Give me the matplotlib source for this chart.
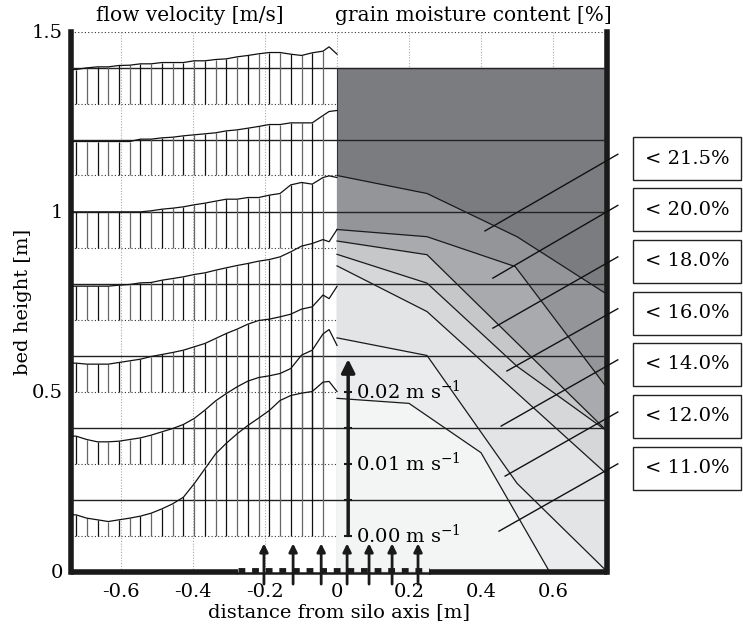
import numpy as np
import matplotlib.pyplot as plt
from matplotlib.patches import Rectangle, Polygon

plt.rcParams['font.family'] = ['DejaVu Serif']
plt.rcParams['mathtext.fontset'] = 'dejavuserif'

# ---- flow velocity profiles [mm/s] at the measuring points ----
bar_x = np.linspace(-0.725, -0.039, 24)
tail_x = [-0.022, 0.0]
profile_zero = [0.1, 0.3, 0.5, 0.7, 0.9, 1.1, 1.3]
level_y = [0.2, 0.4, 0.6, 0.8, 1.0, 1.2, 1.4]

vel_1 = [2.87, 2.41, 2.18, 1.94, 2.18, 2.41, 2.69, 3.10, 3.70, 4.40, 5.32, 7.18,
         9.26, 11.34, 12.82, 14.12, 15.28, 16.30, 17.36, 18.75, 19.44, 19.77, 20.0, 21.3]
vel_2 = [3.80, 3.33, 3.01, 3.01, 3.10, 3.33, 3.56, 3.94, 4.40, 4.86, 5.42, 6.25,
         7.41, 8.70, 9.72, 10.65, 11.44, 11.94, 12.18, 12.5, 13.19, 15.05, 15.74, 18.0]
vel_3 = [3.94, 3.80, 3.80, 3.80, 4.03, 4.26, 4.49, 4.86, 5.14, 5.42, 5.74, 6.20,
         6.67, 7.36, 8.06, 8.66, 9.35, 9.86, 10.05, 10.37, 10.74, 11.44, 11.76, 13.4]
vel_4 = [4.63, 4.63, 4.63, 4.63, 4.77, 4.86, 5.09, 5.14, 5.46, 5.69, 5.93, 6.25,
         6.48, 6.85, 7.18, 7.50, 7.78, 8.10, 8.33, 8.70, 9.40, 10.19, 10.56, 11.1]
vel_5 = [4.95, 4.95, 4.95, 4.95, 4.95, 4.95, 4.95, 5.10, 5.32, 5.46, 5.65, 5.93,
         6.16, 6.44, 6.71, 6.71, 6.94, 6.94, 7.27, 7.50, 8.70, 9.03, 8.80, 9.72]
vel_6 = [4.72, 4.72, 4.72, 4.72, 4.72, 4.72, 5.05, 5.05, 5.23, 5.32, 5.51, 5.65,
         5.79, 5.93, 6.20, 6.34, 6.57, 6.81, 7.08, 7.08, 7.31, 7.31, 7.31, 8.33]
vel_7 = [4.72, 4.95, 5.09, 5.09, 5.28, 5.32, 5.51, 5.51, 5.69, 5.69, 5.69, 5.93,
         5.93, 6.11, 6.20, 6.48, 6.67, 6.90, 7.08, 7.08, 6.85, 6.67, 7.04, 7.27]
tails = [[21.4, 20.0], [18.6, 16.4], [12.9, 14.6], [10.8, 12.5],
         [9.95, 9.72], [8.89, 9.03], [7.87, 6.85]]
profiles = [vel_1, vel_2, vel_3, vel_4, vel_5, vel_6, vel_7]
scale = 0.02  # 0.01 m/s -> 0.2 m of bed height

# ---- grain moisture content: contour boundaries ----
b1_x, b1_y = [0, 0.25, 0.5, 0.75], [1.10, 1.05, 0.93, 0.77]
b2_x, b2_y = [0, 0.25, 0.495, 0.75], [0.95, 0.93, 0.847, 0.51]
b3_x, b3_y = [0, 0.25, 0.75], [0.918, 0.88, 0.39]
b4_x, b4_y = [0, 0.25, 0.5, 0.75], [0.881, 0.801, 0.57, 0.39]
b5_x, b5_y = [0, 0.25, 0.75], [0.849, 0.722, 0.27]
b6_x, b6_y = [0, 0.25, 0.5, 0.75], [0.649, 0.60, 0.245, 0.0]
b7_x, b7_y = [0, 0.2, 0.4, 0.59], [0.481, 0.467, 0.33, 0.0]
bounds = [(b1_x, b1_y), (b2_x, b2_y), (b3_x, b3_y), (b4_x, b4_y),
          (b5_x, b5_y), (b6_x, b6_y), (b7_x, b7_y)]
band_colors = ['#7b7c80', '#949599', '#a8aaad', '#c6c7c9', '#d6d7d9',
               '#e3e4e5', '#ebeced', '#f3f4f4']
legend_labels = ['< 21.5%', '< 20.0%', '< 18.0%', '< 16.0%', '< 14.0%', '< 12.0%', '< 11.0%']
leader_end_x = [0.411, 0.433, 0.433, 0.472, 0.456, 0.467, 0.45]
leader_end_y = [0.946, 0.815, 0.676, 0.557, 0.404, 0.265, 0.112]
legend_y = [1.147, 1.005, 0.862, 0.718, 0.576, 0.431, 0.287]

outlet_x = [-0.203, -0.122, -0.044, 0.028, 0.089, 0.153, 0.225]
wall_l, wall_r = -0.739, 0.75
grain_top = 1.4

fig = plt.figure(figsize=(7.43, 6.28), dpi=100)
ax = fig.add_axes([71 / 743, 56.5 / 628, 536 / 743, 540 / 628])
ax.set_xlim(wall_l, wall_r)
ax.set_ylim(0, 1.5)

# grid
for gx in [-0.6, -0.4, -0.2, 0, 0.2, 0.4, 0.6]:
    ax.axvline(gx, color='#aaaaaa', lw=0.8, ls=(0, (1, 1.5)), zorder=0)
for gy in profile_zero + [1.5]:
    ax.axhline(gy, color='#333333', lw=0.8, ls=(0, (1, 2)), zorder=0)

# moisture bands
ax.add_patch(Rectangle((0, 0), wall_r, grain_top, fc=band_colors[0], ec='#333333',
                       lw=0.8, zorder=1))
for k, (bx, by) in enumerate(bounds):
    verts = list(zip(bx, by)) + [(wall_r, 0), (0, 0)]
    ax.add_patch(Polygon(verts, closed=True, fc=band_colors[k + 1], ec='none', zorder=1))
for bx, by in bounds:
    ax.plot(bx, by, color='#1a1a1a', lw=0.9, zorder=2)

# measurement levels
for ly in level_y:
    ax.plot([wall_l, wall_r], [ly, ly], color='#222222', lw=1.0, zorder=3)

# velocity profiles
bar_cols = ['#111111' if i % 2 == 0 else '#666666' for i in range(len(bar_x))]
for z0, v, t in zip(profile_zero, profiles, tails):
    top = z0 + np.array(v) * scale
    ax.vlines(bar_x, z0, top, colors=bar_cols, lw=0.9, zorder=3)
    cx = np.r_[wall_l, bar_x, tail_x]
    cy = z0 + np.r_[v[0], v, t] * scale
    ax.plot(cx, cy, color='#111111', lw=0.9, zorder=4)

# velocity scale bar
sx = 0.031
ax.annotate('', xy=(sx, 0.59), xytext=(sx, 0.1),
            arrowprops=dict(arrowstyle='-|>', lw=2.5, color='#1a1a1a', mutation_scale=20,
                            shrinkA=0, shrinkB=0), zorder=5)
ax.hlines([0.1, 0.2, 0.3, 0.4, 0.5], sx - 0.012, sx + 0.012, color='#1a1a1a', lw=1.5, zorder=5)
for val, yy in zip(['0.00', '0.01', '0.02'], [0.1, 0.3, 0.5]):
    ax.text(sx + 0.022, yy, val + r' m s$^{-1}$', fontsize=14, va='center', ha='left', zorder=6)

# walls and floor
ax.spines['top'].set_visible(False)
ax.spines['bottom'].set_visible(False)
for side in ['left', 'right']:
    ax.spines[side].set_linewidth(4)
    ax.spines[side].set_color('#1a1a1a')
ax.plot([wall_l, -0.275], [0, 0], color='#1a1a1a', lw=4, clip_on=False,
        solid_capstyle='butt', zorder=6)
ax.plot([0.256, wall_r], [0, 0], color='#1a1a1a', lw=4, clip_on=False,
        solid_capstyle='butt', zorder=6)
ax.plot([-0.275, 0.256], [-0.004, -0.004], color='#1a1a1a', lw=1.8, clip_on=False, zorder=6)
ax.plot([-0.275, 0.256], [0.004, 0.004], color='#1a1a1a', lw=3.5, clip_on=False,
        dashes=(1.4, 1.4), solid_capstyle='butt', zorder=6)
for ox in outlet_x:
    ax.annotate('', xy=(ox, 0.078), xytext=(ox, -0.035),
                arrowprops=dict(arrowstyle='-|>', lw=2, color='#1a1a1a', mutation_scale=12,
                                shrinkA=0, shrinkB=0), annotation_clip=False, zorder=7)

# legend boxes with leader lines
for lab, ly, ex, ey in zip(legend_labels, legend_y, leader_end_x, leader_end_y):
    ax.add_patch(Rectangle((0.822, ly - 0.06), 0.30, 0.119, fc='white', ec='#222222',
                           lw=1.0, clip_on=False, zorder=6))
    ax.text(0.972, ly, lab, ha='center', va='center', fontsize=14, zorder=7)
    ax.plot([0.78, ex], [ly + 0.012, ey], color='#111111', lw=1.0, clip_on=False, zorder=5)

# labels
ax.text(-0.41, 1.545, 'flow velocity [m/s]', ha='center', va='center', fontsize=14.5)
ax.text(0.378, 1.545, 'grain moisture content [%]', ha='center', va='center', fontsize=14.5)
ax.set_xticks([-0.6, -0.4, -0.2, 0, 0.2, 0.4, 0.6])
ax.set_xticklabels(['-0.6', '-0.4', '-0.2', '0', '0.2', '0.4', '0.6'])
ax.set_yticks([0, 0.5, 1, 1.5])
ax.set_yticklabels(['0', '0.5', '1', '1.5'])
ax.tick_params(axis='x', length=0, labelsize=14, pad=8)
ax.tick_params(axis='y', length=0, labelsize=14, pad=6)
ax.set_xlabel('distance from silo axis [m]', fontsize=14, labelpad=2)
ax.set_ylabel('bed height [m]', fontsize=14, labelpad=0)

fig.savefig('out.png', dpi=100)
